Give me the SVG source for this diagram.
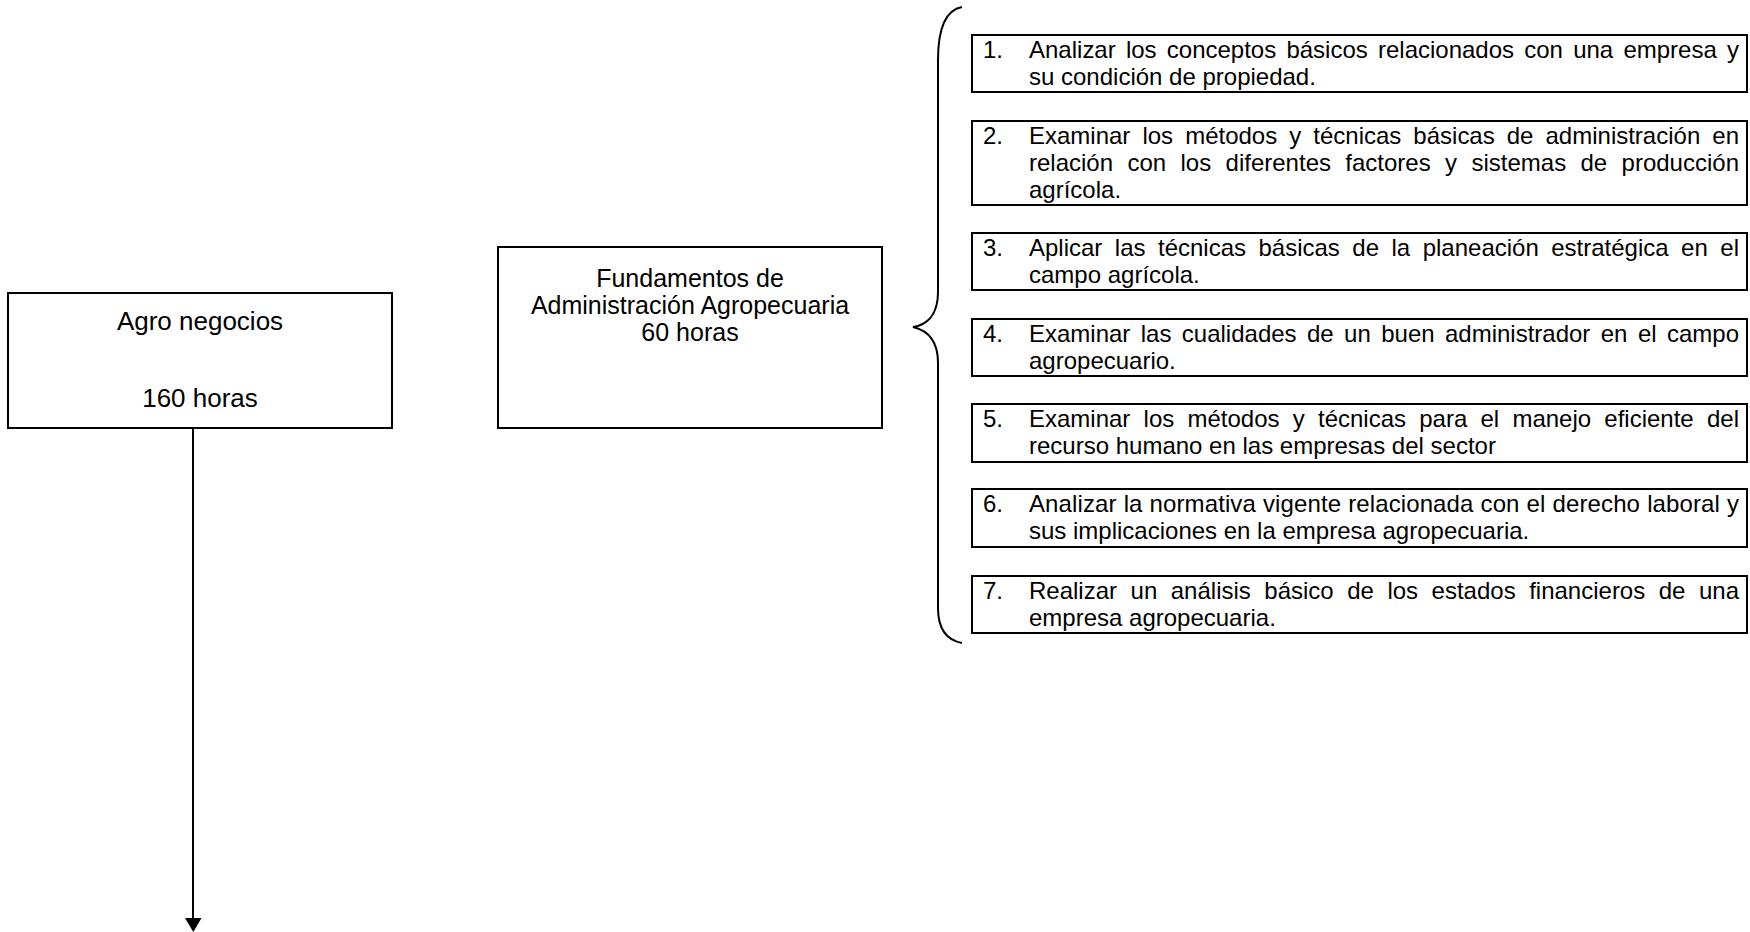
<svg xmlns="http://www.w3.org/2000/svg" width="1750" height="932" viewBox="0 0 1750 932">
<defs>
<style>
.box{fill:#fff;stroke:#000;stroke-width:2}
.big{font-family:"Liberation Sans",Arial,sans-serif;font-size:26px;fill:#000;text-anchor:middle}
.mid{font-family:"Liberation Sans",Arial,sans-serif;font-size:25px;fill:#000;text-anchor:middle}
.t{font-family:"Liberation Sans",Arial,sans-serif;font-size:24px;fill:#000}
.conn{fill:none;stroke:#000;stroke-width:2}
</style>
</defs>
<rect width="1750" height="932" fill="#fff"/>
<g id="connectors">
<line class="conn" x1="193" y1="429" x2="193" y2="919"/>
<polygon points="185,918 201.5,918 193.3,932" fill="#000"/>
<path class="conn" d="M962 7 C946 10 938 28 938 60 L938 292 C938 316 926 325 913 327 C926 330 938 339 938 363 L938 608 C938 628 946 640 962 643"/>
</g>
<g id="node-agro">
<rect class="box" x="8" y="293" width="384" height="135"/>
<text class="big" x="200" y="330">Agro negocios</text>
<text class="big" x="200" y="407">160 horas</text>
</g>
<g id="node-fundamentos">
<rect class="box" x="498" y="247" width="384" height="181"/>
<text class="mid" x="690" y="287">Fundamentos de</text>
<text class="mid" x="690" y="314">Administración Agropecuaria</text>
<text class="mid" x="690" y="341">60 horas</text>
</g>
<g id="obj1">
<rect class="box" x="972" y="35" width="775" height="57"/>
<text class="t" x="983" y="58">1.</text>
<text class="t" x="1029" y="58" word-spacing="3.55" textLength="710" lengthAdjust="spacing">Analizar los conceptos básicos relacionados con una empresa y</text>
<text class="t" x="1029" y="85">su condición de propiedad.</text>
</g>
<g id="obj2">
<rect class="box" x="972" y="121" width="775" height="84"/>
<text class="t" x="983" y="144">2.</text>
<text class="t" x="1029" y="144" word-spacing="5.39" textLength="710" lengthAdjust="spacing">Examinar los métodos y técnicas básicas de administración en</text>
<text class="t" x="1029" y="171" word-spacing="7.7" textLength="710" lengthAdjust="spacing">relación con los diferentes factores y sistemas de producción</text>
<text class="t" x="1029" y="198">agrícola.</text>
</g>
<g id="obj3">
<rect class="box" x="972" y="233" width="775" height="57"/>
<text class="t" x="983" y="256">3.</text>
<text class="t" x="1029" y="256" word-spacing="5.82" textLength="710" lengthAdjust="spacing">Aplicar las técnicas básicas de la planeación estratégica en el</text>
<text class="t" x="1029" y="283">campo agrícola.</text>
</g>
<g id="obj4">
<rect class="box" x="972" y="319" width="775" height="57"/>
<text class="t" x="983" y="342">4.</text>
<text class="t" x="1029" y="342" word-spacing="3.74" textLength="710" lengthAdjust="spacing">Examinar las cualidades de un buen administrador en el campo</text>
<text class="t" x="1029" y="369">agropecuario.</text>
</g>
<g id="obj5">
<rect class="box" x="972" y="404" width="775" height="58"/>
<text class="t" x="983" y="427">5.</text>
<text class="t" x="1029" y="427" word-spacing="6.57" textLength="710" lengthAdjust="spacing">Examinar los métodos y técnicas para el manejo eficiente del</text>
<text class="t" x="1029" y="454">recurso humano en las empresas del sector</text>
</g>
<g id="obj6">
<rect class="box" x="972" y="489" width="775" height="58"/>
<text class="t" x="983" y="512">6.</text>
<text class="t" x="1029" y="512" word-spacing="0.3" textLength="710" lengthAdjust="spacing">Analizar la normativa vigente relacionada con el derecho laboral y</text>
<text class="t" x="1029" y="539">sus implicaciones en la empresa agropecuaria.</text>
</g>
<g id="obj7">
<rect class="box" x="972" y="576" width="775" height="57"/>
<text class="t" x="983" y="599">7.</text>
<text class="t" x="1029" y="599" word-spacing="6.86" textLength="710" lengthAdjust="spacing">Realizar un análisis básico de los estados financieros de una</text>
<text class="t" x="1029" y="626">empresa agropecuaria.</text>
</g>
</svg>
